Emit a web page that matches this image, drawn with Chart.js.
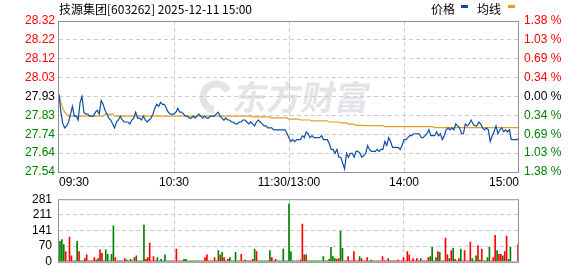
<!DOCTYPE html>
<html>
<head>
<meta charset="utf-8">
<script src="https://cdn.jsdelivr.net/npm/chart.js@4.4.1/dist/chart.umd.min.js"></script>
<style>
  html, body { margin: 0; padding: 0; background: #fff; }
  #wrap { position: relative; width: 578px; height: 276px; overflow: hidden; }
  #priceBox { position: absolute; left: 0; top: 0; width: 578px; height: 190px; }
  #volBox { position: absolute; left: 0; top: 185px; width: 578px; height: 91px; }
</style>
</head>
<body>
<div id="wrap">
  <div id="priceBox"><canvas id="priceChart"></canvas></div>
  <div id="volBox"><canvas id="volChart"></canvas></div>
</div>
<script>
// 技源集团 603262 intraday, 2025-12-11 (one point per minute, 09:30 .. 15:00)

const title = '技源集团[603262] 2025-12-11 15:00';
const preClose = 27.93;
const priceSpan = 0.3852;      // half height of the price axis
const volAxisMax = 281;

const tickPos = [0, 60, 120, 180, 240];
const tickLabels = ['09:30', '10:30', '11:30/13:00', '14:00', '15:00'];

const prices = [
  27.94, 27.85, 27.79, 27.77, 27.78, 27.80, 27.84, 27.88, 27.83, 27.83,
  27.81, 27.90, 27.93, 27.85, 27.84, 27.84, 27.83, 27.83, 27.83, 27.85,
  27.86, 27.84, 27.91, 27.89, 27.86, 27.84, 27.82, 27.81, 27.79, 27.77,
  27.80, 27.81, 27.83, 27.81, 27.80, 27.80, 27.80, 27.79, 27.81, 27.82,
  27.85, 27.82, 27.82, 27.81, 27.83, 27.81, 27.80, 27.81, 27.82, 27.84,
  27.87, 27.89, 27.88, 27.90, 27.89, 27.89, 27.87, 27.85, 27.84, 27.84,
  27.84, 27.85, 27.87, 27.85, 27.85, 27.84, 27.83, 27.83, 27.82, 27.82,
  27.83, 27.82, 27.83, 27.84, 27.83, 27.82, 27.83, 27.82, 27.82, 27.83,
  27.83, 27.83, 27.84, 27.85, 27.83, 27.82, 27.81, 27.82, 27.81, 27.81,
  27.80, 27.80, 27.79, 27.79, 27.80, 27.80, 27.81, 27.81, 27.80, 27.79,
  27.80, 27.79, 27.78, 27.80, 27.81, 27.80, 27.79, 27.78, 27.78, 27.77,
  27.77, 27.77, 27.76, 27.76, 27.76, 27.76, 27.76, 27.76, 27.76, 27.74,
  27.72, 27.70, 27.71, 27.70, 27.71, 27.71, 27.71, 27.73, 27.72, 27.75,
  27.74, 27.72, 27.73, 27.72, 27.72, 27.72, 27.72, 27.73, 27.71, 27.71,
  27.71, 27.69, 27.66, 27.66, 27.64, 27.66, 27.62, 27.62, 27.59, 27.56,
  27.64, 27.62, 27.64, 27.64, 27.62, 27.65, 27.65, 27.64, 27.62, 27.63,
  27.64, 27.68, 27.66, 27.65, 27.65, 27.65, 27.66, 27.65, 27.66, 27.66,
  27.70, 27.68, 27.72, 27.70, 27.67, 27.67, 27.67, 27.67, 27.66, 27.68,
  27.71, 27.71, 27.72, 27.73, 27.73, 27.74, 27.74, 27.74, 27.74, 27.72,
  27.72, 27.73, 27.74, 27.76, 27.73, 27.73, 27.73, 27.75, 27.73, 27.74,
  27.71, 27.73, 27.76, 27.77, 27.76, 27.77, 27.76, 27.79, 27.78, 27.77,
  27.74, 27.74, 27.79, 27.78, 27.79, 27.81, 27.79, 27.78, 27.78, 27.80,
  27.79, 27.77, 27.76, 27.77, 27.76, 27.70, 27.73, 27.75, 27.78, 27.74,
  27.76, 27.77, 27.75, 27.76, 27.75, 27.76, 27.71, 27.71, 27.71, 27.71,
  27.72
];

const avgLine = [
  27.94, 27.90, 27.87, 27.85, 27.84, 27.83, 27.83, 27.83, 27.83, 27.83,
  27.83, 27.83, 27.83, 27.83, 27.83, 27.83, 27.83, 27.83, 27.83, 27.83,
  27.83, 27.83, 27.83, 27.83, 27.84, 27.84, 27.84, 27.84, 27.84, 27.83,
  27.83, 27.83, 27.83, 27.83, 27.83, 27.83, 27.83, 27.83, 27.83, 27.83,
  27.83, 27.83, 27.83, 27.83, 27.83, 27.83, 27.83, 27.83, 27.83, 27.83,
  27.83, 27.83, 27.83, 27.83, 27.83, 27.83, 27.83, 27.83, 27.83, 27.83,
  27.83, 27.83, 27.83, 27.83, 27.83, 27.83, 27.83, 27.83, 27.83, 27.83,
  27.83, 27.83, 27.83, 27.83, 27.83, 27.83, 27.83, 27.83, 27.83, 27.83,
  27.83, 27.83, 27.83, 27.83, 27.83, 27.83, 27.83, 27.83, 27.83, 27.83,
  27.83, 27.83, 27.83, 27.83, 27.83, 27.83, 27.83, 27.83, 27.83, 27.83,
  27.83, 27.826, 27.826, 27.826, 27.826, 27.826, 27.826, 27.826, 27.826, 27.826,
  27.826, 27.821, 27.821, 27.821, 27.821, 27.821, 27.821, 27.821, 27.821, 27.821,
  27.815, 27.815, 27.815, 27.815, 27.815, 27.815, 27.81, 27.81, 27.81, 27.81,
  27.81, 27.81, 27.806, 27.806, 27.806, 27.806, 27.806, 27.806, 27.806, 27.806,
  27.806, 27.80, 27.80, 27.80, 27.80, 27.80, 27.80, 27.795, 27.795, 27.795,
  27.795, 27.789, 27.789, 27.789, 27.789, 27.783, 27.783, 27.783, 27.783, 27.783,
  27.781, 27.781, 27.781, 27.781, 27.781, 27.781, 27.781, 27.781, 27.781, 27.781,
  27.776, 27.776, 27.776, 27.776, 27.776, 27.776, 27.776, 27.776, 27.776, 27.776,
  27.776, 27.776, 27.776, 27.776, 27.776, 27.776, 27.776, 27.776, 27.776, 27.776,
  27.776, 27.776, 27.776, 27.776, 27.776, 27.776, 27.771, 27.771, 27.771, 27.771,
  27.771, 27.771, 27.771, 27.771, 27.771, 27.771, 27.771, 27.771, 27.771, 27.771,
  27.771, 27.771, 27.771, 27.771, 27.771, 27.771, 27.771, 27.771, 27.771, 27.771,
  27.771, 27.771, 27.771, 27.771, 27.771, 27.771, 27.771, 27.771, 27.771, 27.771,
  27.771, 27.771, 27.771, 27.771, 27.771, 27.771, 27.771, 27.771, 27.771, 27.771,
  27.771
];

const volumes = [
  92, 100, 77, 46, 4, 111, 27, 4, 4, 92,
  46, 4, 4, 15, 31, 4, 4, 4, 19, 8,
  15, 54, 38, 4, 54, 34, 4, 34, 161, 19,
  4, 4, 4, 4, 15, 8, 4, 11, 4, 19,
  27, 4, 4, 4, 165, 11, 19, 84, 4, 23,
  4, 19, 4, 11, 4, 31, 4, 4, 4, 4,
  4, 57, 4, 4, 4, 11, 11, 4, 4, 4,
  4, 4, 4, 4, 4, 4, 19, 31, 4, 4,
  4, 19, 4, 50, 31, 42, 19, 4, 11, 19,
  4, 4, 42, 4, 4, 34, 4, 8, 4, 4,
  4, 11, 57, 46, 4, 4, 4, 4, 4, 4,
  50, 19, 4, 11, 4, 4, 4, 57, 4, 4,
  260, 46, 4, 4, 4, 4, 8, 169, 31, 31,
  4, 4, 4, 4, 4, 4, 4, 4, 23, 4,
  4, 11, 65, 23, 15, 11, 15, 138, 61, 4,
  4, 23, 4, 4, 46, 4, 4, 23, 15, 4,
  4, 19, 4, 8, 4, 4, 4, 4, 4, 23,
  4, 4, 15, 4, 4, 4, 4, 8, 4, 4,
  19, 4, 46, 31, 4, 15, 4, 15, 4, 15,
  4, 4, 4, 19, 23, 65, 4, 19, 46, 42,
  4, 4, 107, 31, 15, 50, 61, 11, 4, 15,
  57, 4, 50, 4, 4, 88, 15, 4, 27, 73,
  8, 57, 4, 4, 19, 65, 4, 19, 119, 50,
  34, 34, 27, 46, 115, 11, 65, 0, 0, 0,
  76
];

// 1 = traded up (buy side), 0 = traded down
const volUp = [
  0, 0, 0, 1, 1, 1, 1, 0, 0, 0,
  1, 0, 0, 1, 1, 1, 1, 1, 1, 1,
  0, 1, 1, 0, 0, 0, 1, 0, 0, 1,
  1, 1, 0, 1, 1, 0, 0, 0, 1, 1,
  0, 1, 0, 0, 0, 1, 1, 1, 1, 1,
  1, 0, 0, 0, 0, 0, 0, 0, 1, 1,
  1, 1, 1, 1, 1, 0, 0, 0, 0, 0,
  0, 0, 0, 0, 1, 1, 1, 1, 1, 1,
  0, 1, 1, 0, 1, 0, 1, 0, 1, 0,
  0, 0, 0, 0, 1, 1, 1, 0, 0, 1,
  1, 1, 0, 1, 0, 0, 0, 0, 1, 0,
  0, 1, 0, 1, 0, 0, 0, 0, 1, 0,
  0, 0, 0, 1, 0, 1, 1, 1, 0, 1,
  0, 0, 0, 0, 0, 0, 0, 0, 0, 0,
  1, 0, 0, 0, 0, 1, 1, 0, 0, 1,
  1, 1, 1, 0, 1, 1, 1, 0, 1, 1,
  1, 1, 0, 0, 0, 1, 1, 0, 1, 1,
  1, 1, 1, 0, 0, 1, 1, 1, 1, 1,
  1, 1, 1, 1, 1, 1, 1, 1, 1, 0,
  1, 1, 1, 1, 0, 0, 0, 0, 1, 0,
  0, 1, 1, 1, 0, 1, 0, 1, 1, 1,
  0, 1, 1, 1, 1, 1, 0, 0, 0, 1,
  0, 1, 0, 1, 0, 0, 1, 1, 1, 0,
  1, 1, 0, 1, 1, 0, 0, 0, 0, 0,
  1
];

const UP = '#ff0000';
const DOWN = '#008000';
const FLAT = '#000000';
const BLUE = '#0c4ea6';
const ORANGE = '#e4a11b';
const GRID = '#cccccc';
const NONE = 'rgba(0,0,0,0)';
const AXIS_FONT = { family: '"Liberation Sans", Arial, sans-serif', size: 12 };

Chart.defaults.font.family = AXIS_FONT.family;

const priceLevels = [4, 3, 2, 1, 0, -1, -2, -3, -4].map(k => preClose + k * priceSpan / 4);

function levelColor(v) {
  const d = v - preClose;
  if (Math.abs(d) < 1e-6) return FLAT;
  return d > 0 ? UP : DOWN;
}

const innerGrid = (last) => (c) => (c.index === 0 || c.index === last) ? NONE : GRID;

const frame = {
  id: 'frame',
  afterDraw(chart) {
    const { ctx, chartArea: a } = chart;
    ctx.save();
    ctx.strokeStyle = '#8f8f8f';
    ctx.lineWidth = 1;
    ctx.strokeRect(a.left - 0.5, a.top + 0.5, a.right - a.left, a.bottom - a.top);
    ctx.restore();
  }
};

const watermark = {
  id: 'watermark',
  beforeDraw(chart) {
    const ctx = chart.ctx;
    ctx.save();
    ctx.fillStyle = 'rgba(185,185,195,0.38)';
    ctx.strokeStyle = 'rgba(185,185,195,0.38)';
    // logo swoosh
    ctx.lineWidth = 7;
    ctx.beginPath();
    ctx.arc(216, 97, 13, 0.55 * Math.PI, 1.85 * Math.PI);
    ctx.stroke();
    ctx.translate(302, 97);
    ctx.transform(1, 0, -0.18, 1, 0, 0);
    ctx.font = 'bold 34px "Noto Sans CJK SC"';
    ctx.textAlign = 'center';
    ctx.textBaseline = 'middle';
    ctx.fillText('东方财富', 0, 0);
    ctx.restore();
  }
};

const header = {
  id: 'header',
  afterDraw(chart) {
    const ctx = chart.ctx;
    ctx.save();
    ctx.font = '12px "Noto Sans CJK SC"';
    ctx.textBaseline = 'middle';
    ctx.fillStyle = '#000';
    ctx.fillText(title, 59, 9);
    ctx.fillText('价格', 431, 9);
    ctx.fillText('均线', 477, 9);
    ctx.fillStyle = BLUE;
    ctx.fillRect(461, 5, 7, 3);
    ctx.fillStyle = ORANGE;
    ctx.fillRect(508, 5, 7, 3);
    ctx.restore();
  }
};

new Chart(document.getElementById('priceChart'), {
  type: 'line',
  data: {
    datasets: [{
      label: '价格',
      data: prices.map((p, i) => ({ x: i, y: p })),
      borderColor: BLUE,
      borderWidth: 1.2,
      pointRadius: 0,
      tension: 0,
      yAxisID: 'y'
    }, {
      label: '均线',
      data: avgLine.map((p, i) => ({ x: i, y: p })),
      borderColor: ORANGE,
      borderWidth: 1.2,
      pointRadius: 0,
      tension: 0,
      yAxisID: 'y'
    }]
  },
  options: {
    responsive: true,
    maintainAspectRatio: false,
    animation: false,
    layout: { padding: { top: 21, left: 0, right: 0, bottom: 0 }, autoPadding: false },
    plugins: { legend: { display: false }, tooltip: { enabled: false } },
    scales: {
      x: {
        type: 'linear',
        min: 0,
        max: 240,
        afterBuildTicks: s => { s.ticks = tickPos.map(v => ({ value: v })); },
        afterFit: s => { s.height = 18; },
        ticks: {
          callback: (v, i) => tickLabels[i],
          align: 'inner',
          autoSkip: false,
          maxRotation: 0,
          padding: 3,
          color: '#000',
          font: AXIS_FONT
        },
        grid: { color: innerGrid(4), drawTicks: false },
        border: { display: false, dash: [4, 3] }
      },
      y: {
        position: 'left',
        min: preClose - priceSpan,
        max: preClose + priceSpan,
        afterBuildTicks: s => { s.ticks = priceLevels.map(v => ({ value: v })); },
        afterFit: s => { s.width = 59; },
        ticks: {
          callback: v => v.toFixed(2),
          color: c => levelColor(c.tick ? c.tick.value : preClose),
          padding: 4,
          font: AXIS_FONT
        },
        grid: { color: innerGrid(8), drawTicks: false },
        border: { display: false, dash: [4, 3] }
      },
      y2: {
        position: 'right',
        min: preClose - priceSpan,
        max: preClose + priceSpan,
        afterBuildTicks: s => { s.ticks = priceLevels.map(v => ({ value: v })); },
        afterFit: s => { s.width = 59; },
        ticks: {
          callback: v => (Math.abs(v - preClose) / preClose * 100).toFixed(2) + ' %',
          color: c => levelColor(c.tick ? c.tick.value : preClose),
          padding: 5,
          font: AXIS_FONT
        },
        grid: { display: false, drawTicks: false },
        border: { display: false }
      }
    }
  },
  plugins: [watermark, frame, header]
});

new Chart(document.getElementById('volChart'), {
  type: 'bar',
  data: {
    datasets: [{
      label: '成交量',
      data: volumes.map((v, i) => ({ x: i, y: v })),
      backgroundColor: volUp.map(u => u ? UP : DOWN),
      barThickness: 1,
      borderWidth: 0
    }]
  },
  options: {
    responsive: true,
    maintainAspectRatio: false,
    animation: false,
    layout: { padding: { top: 11, left: 0, right: 59, bottom: 6 }, autoPadding: false },
    plugins: { legend: { display: false }, tooltip: { enabled: false } },
    scales: {
      x: {
        type: 'linear',
        offset: false,
        min: -0.5,
        max: 240.5,
        afterBuildTicks: s => { s.ticks = tickPos.map(v => ({ value: v })); },
        afterFit: s => { s.height = 0; },
        ticks: { display: false },
        grid: { color: innerGrid(4), drawTicks: false, offset: false },
        border: { display: false, dash: [4, 3] }
      },
      y: {
        min: 0,
        max: volAxisMax,
        afterBuildTicks: s => { s.ticks = [4, 3, 2, 1, 0].map(k => ({ value: volAxisMax * k / 4 })); },
        afterFit: s => { s.width = 59; },
        ticks: {
          callback: v => String(Math.round(v)),
          color: '#000',
          padding: 7,
          font: AXIS_FONT
        },
        grid: { color: c => (c.tick && (c.tick.value === 0 || c.tick.value === volAxisMax)) ? NONE : GRID, drawTicks: false },
        border: { display: false, dash: [4, 3] }
      }
    }
  },
  plugins: [frame]
});
</script>
</body>
</html>
